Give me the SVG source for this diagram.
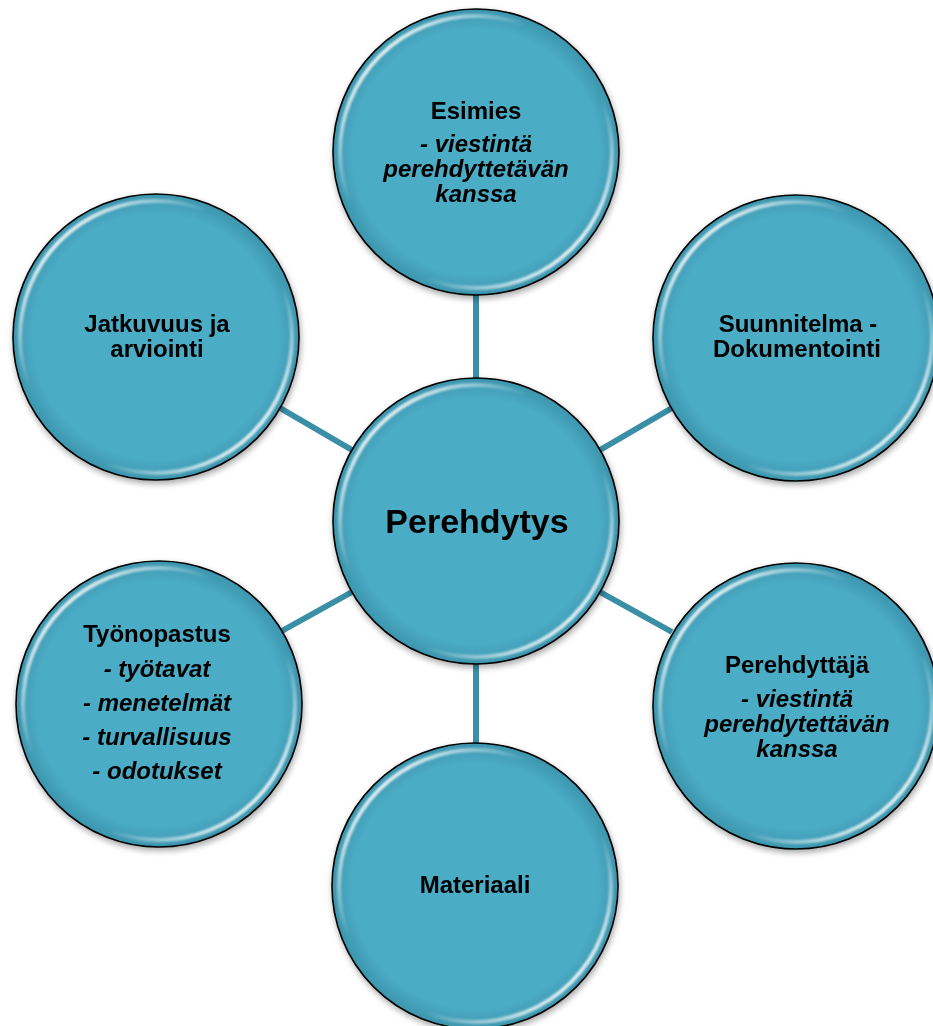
<svg xmlns="http://www.w3.org/2000/svg" width="933" height="1026" viewBox="0 0 933 1026">
  <defs>
    <linearGradient id="hl" x1="0" y1="0" x2="1" y2="1">
      <stop offset="0.1" stop-color="#ffffff" stop-opacity="1"/>
      <stop offset="0.36" stop-color="#ffffff" stop-opacity="0"/>
      <stop offset="0.64" stop-color="#ffffff" stop-opacity="0"/>
      <stop offset="0.9" stop-color="#ffffff" stop-opacity="1"/>
    </linearGradient>
    <radialGradient id="fillg" cx="0.5" cy="0.5" r="0.5">
      <stop offset="0.86" stop-color="#4BACC6"/>
      <stop offset="1" stop-color="#3C95AD"/>
    </radialGradient>
    <filter id="shadow" x="-10%" y="-10%" width="120%" height="120%">
      <feGaussianBlur in="SourceAlpha" stdDeviation="3"/>
      <feOffset dx="1" dy="3" result="b"/>
      <feComponentTransfer><feFuncA type="linear" slope="0.35"/></feComponentTransfer>
      <feMerge><feMergeNode/><feMergeNode in="SourceGraphic"/></feMerge>
    </filter>
    <filter id="soft" x="-5%" y="-5%" width="110%" height="110%">
      <feGaussianBlur stdDeviation="0.8"/>
    </filter>
  </defs>
  <style>
    .disc { fill: url(#fillg); stroke: #000; stroke-width: 1.6; }
    .ring { fill: none; stroke: url(#hl); stroke-width: 4; }
    .conn { stroke: #3A8FA6; stroke-width: 6; fill: none; }
    text { font-family: "Liberation Sans", Arial, sans-serif; font-weight: bold; fill: #000; text-anchor: middle; }
    .t { font-size: 24px; }
    .i { font-size: 24px; font-style: italic; }
    .big { font-size: 34px; }
  </style>
  <rect width="933" height="1026" fill="#ffffff"/>

  <g id="connectors">
    <line class="conn" x1="476" y1="295" x2="476" y2="380"/>
    <line class="conn" x1="476" y1="662" x2="476" y2="744"/>
    <line class="conn" x1="280" y1="408" x2="352" y2="450"/>
    <line class="conn" x1="672" y1="408" x2="600" y2="450"/>
    <line class="conn" x1="280" y1="632" x2="352" y2="592"/>
    <line class="conn" x1="672" y1="632" x2="600" y2="592"/>
  </g>

  <g id="node-center" filter="url(#shadow)">
    <circle class="disc" cx="476" cy="521" r="143"/>
    <circle class="ring" cx="476" cy="521" r="136" filter="url(#soft)"/>
    <text class="big" x="477" y="533">Perehdytys</text>
  </g>

  <g id="node-esimies" filter="url(#shadow)">
    <circle class="disc" cx="476" cy="152" r="143"/>
    <circle class="ring" cx="476" cy="152" r="136" filter="url(#soft)"/>
    <text class="t" x="476" y="119">Esimies</text>
    <text class="i" x="476" y="152">- viestintä</text>
    <text class="i" x="476" y="177">perehdyttetävän</text>
    <text class="i" x="476" y="202">kanssa</text>
  </g>

  <g id="node-suunnitelma" filter="url(#shadow)">
    <circle class="disc" cx="796" cy="338" r="143"/>
    <circle class="ring" cx="796" cy="338" r="136" filter="url(#soft)"/>
    <text class="t" x="798" y="332">Suunnitelma -</text>
    <text class="t" x="797" y="357">Dokumentointi</text>
  </g>

  <g id="node-perehdyttaja" filter="url(#shadow)">
    <circle class="disc" cx="796" cy="706" r="143"/>
    <circle class="ring" cx="796" cy="706" r="136" filter="url(#soft)"/>
    <text class="t" x="797" y="673">Perehdyttäjä</text>
    <text class="i" x="797" y="707">- viestintä</text>
    <text class="i" x="797" y="732">perehdytettävän</text>
    <text class="i" x="797" y="757">kanssa</text>
  </g>

  <g id="node-materiaali" filter="url(#shadow)">
    <circle class="disc" cx="475" cy="886" r="143"/>
    <circle class="ring" cx="475" cy="886" r="136" filter="url(#soft)"/>
    <text class="t" x="475" y="893">Materiaali</text>
  </g>

  <g id="node-tyonopastus" filter="url(#shadow)">
    <circle class="disc" cx="159" cy="704" r="143"/>
    <circle class="ring" cx="159" cy="704" r="136" filter="url(#soft)"/>
    <text class="t" x="157" y="642">Työnopastus</text>
    <text class="i" x="157" y="677">- työtavat</text>
    <text class="i" x="157" y="711">- menetelmät</text>
    <text class="i" x="157" y="745">- turvallisuus</text>
    <text class="i" x="157" y="779">- odotukset</text>
  </g>

  <g id="node-jatkuvuus" filter="url(#shadow)">
    <circle class="disc" cx="156" cy="337" r="143"/>
    <circle class="ring" cx="156" cy="337" r="136" filter="url(#soft)"/>
    <text class="t" x="157" y="332">Jatkuvuus ja</text>
    <text class="t" x="157" y="357">arviointi</text>
  </g>
</svg>
